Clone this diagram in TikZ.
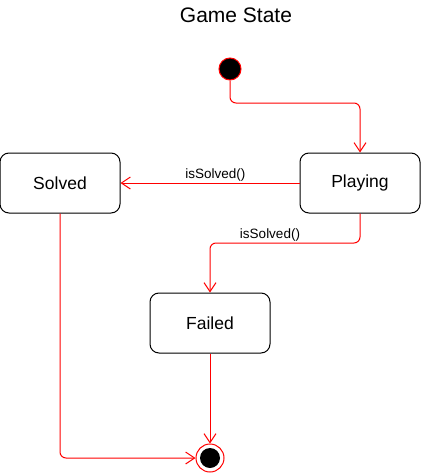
\documentclass[tikz,border=0pt]{standalone}
\usepackage{fontspec}
\setmainfont{Liberation Sans}
\usetikzlibrary{arrows.meta}
\begin{document}
\begin{tikzpicture}[x=1pt,y=-1pt,
  state/.style={draw=black,line width=1pt,rounded corners=9pt,minimum width=120pt,minimum height=60pt,inner sep=0pt,font=\fontsize{17.5}{20}\selectfont,fill=white},
  edge/.style={draw=red,line width=1pt,rounded corners=6pt,-{Straight Barb[length=9pt,width=12pt]}},
  elabel/.style={font=\fontsize{13.5}{15}\selectfont,inner sep=1pt}]
\useasboundingbox (0,0) rectangle (421,474);
\node[font=\fontsize{21}{24}\selectfont] (title) at (236,15) {Game State};
\node[circle,fill=black,draw=red,line width=1pt,minimum size=22pt,inner sep=0pt] (init) at (230,69) {};
\node[state] (play) at (360,183) {Playing};
\node[state] (solved) at (60,183) {Solved};
\node[state] (failed) at (210,323) {Failed};
\node[circle,draw=red,line width=1pt,minimum size=28pt,inner sep=0pt,fill=white] (final) at (210,458) {};
\node[circle,fill=black,minimum size=20pt,inner sep=0pt] (finalin) at (final) {};
\draw[edge] (init.south) |- (295,103) -| (play.north);
\draw[edge] (play.west) -- (solved.east) node[elabel,pos=0.47,above] {isSolved()};
\draw[edge] (play.south) |- (270,243) node[elabel,above] {isSolved()} -| (failed.north);
\draw[edge] (solved.south) |- (final.west);
\draw[edge] (failed.south) -- (final.north);
\end{tikzpicture}
\end{document}
